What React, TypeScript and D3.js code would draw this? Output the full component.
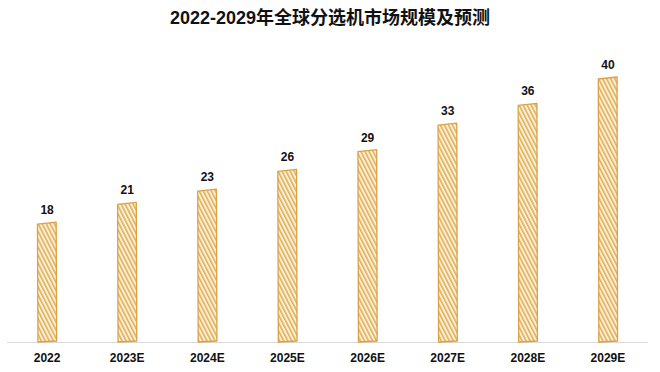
import React, { useEffect, useRef } from "react";
import * as d3 from "d3";

const categories = ["2022", "2023E", "2024E", "2025E", "2026E", "2027E", "2028E", "2029E"];
const values = [18, 21, 23, 26, 29, 33, 36, 40];
const title = "2022-2029年全球分选机市场规模及预测";

const W = 660, H = 372;

export default function App() {
  const ref = useRef<SVGSVGElement>(null);

  useEffect(() => {
    const svg = d3.select(ref.current);
    svg.selectAll("*").remove();

    const gold = "#DCA145";
    const margin = { left: 7, right: 12, top: 78, bottom: 30 };
    const baseY = H - margin.bottom;

    // hatch pattern (sketchy fill)
    const defs = svg.append("defs");
    const pat = defs.append("pattern")
      .attr("id", "hatch")
      .attr("patternUnits", "userSpaceOnUse")
      .attr("width", 3.6)
      .attr("height", 6)
      .attr("patternTransform", "rotate(-27)");
    pat.append("rect").attr("width", 3.6).attr("height", 6).attr("fill", "#FCF0D8");
    pat.append("line")
      .attr("x1", 0.8).attr("y1", 0).attr("x2", 0.8).attr("y2", 6)
      .attr("stroke", "#E2AA50").attr("stroke-width", 1.5);

    const x = d3.scaleBand().domain(categories).range([margin.left, W - margin.right]).paddingInner(0.76).paddingOuter(0.38);
    const y = d3.scaleLinear().domain([0, 40]).range([baseY, margin.top]);

    // title
    svg.append("text")
      .attr("x", W / 2).attr("y", 24)
      .attr("text-anchor", "middle")
      .style("font-family", "Arial, 'Noto Sans CJK SC', sans-serif")
      .style("font-size", "18px")
      .style("font-weight", "bold")
      .attr("fill", "#111")
      .text(title);

    // axis line
    svg.append("line")
      .attr("x1", margin.left).attr("x2", W - margin.right)
      .attr("y1", baseY + 0.5).attr("y2", baseY + 0.5)
      .attr("stroke", "#D9D9D9").attr("stroke-width", 1);

    const g = svg.append("g");
    const bw = x.bandwidth();

    // bars with a slightly hand-drawn outline
    g.selectAll(".bar").data(values).join("path")
      .attr("class", "bar")
      .attr("d", (d, i) => {
        const x0 = x(categories[i])!, x1 = x0 + bw, top = y(d);
        const p = d3.path();
        p.moveTo(x0 + 0.5, baseY);
        p.lineTo(x0, top + 1);
        p.lineTo(x1 - 0.5, top - 1);
        p.lineTo(x1, baseY - 1);
        p.closePath();
        return p.toString();
      })
      .attr("fill", "url(#hatch)")
      .attr("stroke", gold)
      .attr("stroke-width", 1.3)
      .attr("stroke-linejoin", "round");

    // value labels
    g.selectAll(".val").data(values).join("text")
      .attr("class", "val")
      .attr("x", (d, i) => x(categories[i])! + bw / 2)
      .attr("y", d => y(d) - 9)
      .attr("text-anchor", "middle")
      .style("font-family", "Arial, 'Liberation Sans', sans-serif")
      .style("font-size", "12px")
      .style("font-weight", "bold")
      .attr("fill", "#111")
      .text(d => d);

    // category labels
    g.selectAll(".cat").data(categories).join("text")
      .attr("class", "cat")
      .attr("x", d => x(d)! + bw / 2)
      .attr("y", baseY + 20)
      .attr("text-anchor", "middle")
      .style("font-family", "Arial, 'Liberation Sans', sans-serif")
      .style("font-size", "12px")
      .style("font-weight", "bold")
      .attr("fill", "#111")
      .text(d => d);
  }, []);

  return (
    <div style={{ position: "absolute", left: 0, top: 0 }}>
      <svg ref={ref} width={W} height={H} style={{ display: "block", background: "#fff" }} />
    </div>
  );
}
